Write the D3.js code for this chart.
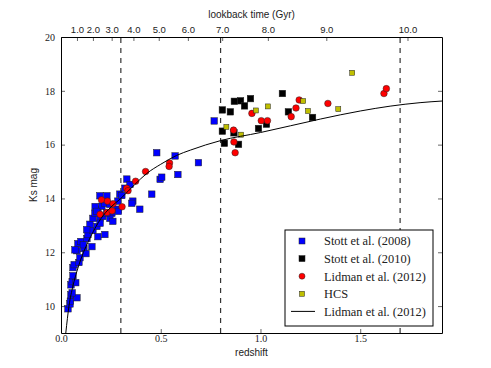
<!DOCTYPE html>
<html>
<head>
<meta charset="utf-8">
<script src="https://cdn.jsdelivr.net/npm/d3@7"></script>
<style>
  body { margin: 0; background: #fff; }
  svg text { fill: #222; }
  .tick-serif { font-family: "Liberation Serif", "DejaVu Serif", serif; font-size: 10px; }
  .tick-sans { font-family: "Liberation Sans", Arial, sans-serif; font-size: 9.5px; }
  .label { font-family: "Liberation Sans", Arial, sans-serif; font-size: 10px; }
  .legend text { font-family: "Liberation Serif", "DejaVu Serif", serif; font-size: 12.4px; }
</style>
</head>
<body>
<div id="chart"></div>
<script>
// [redshift, Ks mag]
const stott2008 = [
  [0.035, 9.90], [0.045, 10.08], [0.047, 10.18], [0.05, 10.42], [0.08, 10.31], [0.056, 10.49],
  [0.05, 10.79], [0.056, 10.91], [0.074, 10.87], [0.06, 11.13], [0.06, 11.43], [0.066, 11.54],
  [0.09, 11.62], [0.095, 11.80], [0.08, 12.06], [0.115, 12.14], [0.125, 11.95], [0.155, 12.21],
  [0.085, 12.32], [0.10, 12.40], [0.13, 12.51], [0.135, 12.66], [0.16, 12.81], [0.145, 13.04],
  [0.18, 12.96], [0.16, 13.26], [0.195, 13.26], [0.17, 13.45], [0.185, 13.60], [0.205, 13.71],
  [0.195, 14.10], [0.23, 14.10], [0.22, 13.82], [0.245, 13.78], [0.255, 13.45], [0.245, 13.26],
  [0.26, 13.15], [0.22, 12.66], [0.185, 12.58], [0.28, 13.60], [0.285, 13.90], [0.295, 14.16],
  [0.32, 14.38], [0.33, 14.72], [0.36, 13.90], [0.355, 13.82], [0.395, 13.60], [0.455, 14.16],
  [0.171, 13.70], [0.179, 13.52], [0.209, 13.33], [0.229, 13.46], [0.288, 13.52], [0.112, 12.28],
  [0.07, 12.09], [0.196, 13.08], [0.129, 12.84], [0.346, 14.52], [0.305, 14.11],
  [0.48, 15.70], [0.572, 15.58], [0.689, 15.33], [0.497, 14.71], [0.505, 14.79], [0.586, 14.89],
  [0.768, 16.88]
];
const stott2010 = [
  [0.809, 17.29], [0.849, 17.22], [0.869, 17.61], [0.900, 17.63], [0.920, 17.44], [0.950, 17.71],
  [1.110, 17.90], [0.809, 16.50], [0.819, 16.05], [0.890, 16.01], [0.867, 16.44], [0.990, 16.60],
  [1.030, 16.76], [1.140, 17.22], [1.261, 17.01]
];
const lidman2012 = [
  [0.196, 13.41], [0.203, 13.95], [0.233, 13.90], [0.261, 13.80], [0.231, 13.48], [0.256, 13.54],
  [0.306, 13.69], [0.329, 14.38], [0.336, 14.29], [0.374, 14.64], [0.424, 15.00], [0.544, 15.32],
  [0.542, 15.19], [0.865, 16.54], [0.867, 16.10], [0.873, 15.70], [0.957, 17.16], [1.004, 16.89],
  [1.035, 16.89], [1.154, 17.04], [1.178, 17.36], [1.194, 17.66], [1.338, 17.53], [1.619, 17.90],
  [1.631, 18.08]
];
const hcs = [
  [0.829, 16.66], [0.903, 16.37], [0.977, 17.27], [1.037, 17.42], [1.214, 17.62], [1.238, 17.25],
  [1.390, 17.32], [1.460, 18.67]
];
// model curve
const lidmanModel = [
  [0.024, 9.0], [0.04, 10.0], [0.06, 10.75], [0.08, 11.3], [0.1, 11.75], [0.15, 12.6],
  [0.2, 13.25], [0.25, 13.68], [0.3, 14.0], [0.37, 14.52], [0.43, 14.93], [0.5, 15.27],
  [0.58, 15.6], [0.65, 15.8], [0.8, 16.15], [1.0, 16.45], [1.15, 16.7], [1.3, 16.95],
  [1.5, 17.25], [1.65, 17.43], [1.8, 17.56], [1.91, 17.62]
];
const epochs = [0.3, 0.8, 1.7];
const lookbackLabels = ["1.0", "2.0", "3.0", "4.0", "5.0", "6.0", "7.0", "8.0", "9.0", "10.0"];
const lookbackRedshift = [0.08, 0.16, 0.254, 0.363, 0.49, 0.636, 0.808, 1.037, 1.33, 1.737];
const xTicks = [0, 0.5, 1.0, 1.5];
const yTicks = [10, 12, 14, 16, 18, 20];

/* ===== Constants ===== */
const width = 491, height = 368;
const margin = {top: 37, right: 49, bottom: 35, left: 61};

const svg = d3.select("#chart").append("svg")
  .attr("width", width).attr("height", height);

const x = d3.scaleLinear().domain([0, 1.91]).range([margin.left, width - margin.right]);
const y = d3.scaleLinear().domain([9, 20]).range([height - margin.bottom, margin.top]);

// dashed epoch markers
svg.append("g").selectAll("line").data(epochs).join("line")
  .attr("x1", d => x(d)).attr("x2", d => x(d))
  .attr("y1", y(9)).attr("y2", y(20))
  .attr("stroke", "#333").attr("stroke-width", 1.2)
  .attr("stroke-dasharray", "5,5");

function squares(data, fill, size) {
  svg.append("g").selectAll("rect").data(data).join("rect")
    .attr("x", d => x(d[0]) - size / 2).attr("y", d => y(d[1]) - size / 2)
    .attr("width", size).attr("height", size)
    .attr("fill", fill).attr("stroke", "#222").attr("stroke-width", 0.5);
}

squares(stott2008, "#0000ff", 6.5);
squares(stott2010, "#000000", 6.5);
svg.append("g").selectAll("circle").data(lidman2012).join("circle")
  .attr("cx", d => x(d[0])).attr("cy", d => y(d[1])).attr("r", 3.3)
  .attr("fill", "#ff0000").attr("stroke", "#222").attr("stroke-width", 0.5);
squares(hcs, "#bfbf00", 5);

// model curve
svg.append("path").datum(lidmanModel)
  .attr("fill", "none").attr("stroke", "#000").attr("stroke-width", 1)
  .attr("d", d3.line().x(d => x(d[0])).y(d => y(d[1])).curve(d3.curveMonotoneX));

// axes, ticks pointing inward
const bottom = svg.append("g").attr("transform", `translate(0,${y(9)})`)
  .call(d3.axisBottom(x).tickValues(xTicks).tickFormat(d3.format(".1f")).tickSizeInner(-4).tickSizeOuter(0).tickPadding(2));
const left = svg.append("g").attr("transform", `translate(${x(0)},0)`)
  .call(d3.axisLeft(y).tickValues(yTicks).tickFormat(d3.format("d")).tickSizeInner(-4).tickSizeOuter(0).tickPadding(6));
const right = svg.append("g").attr("transform", `translate(${x(1.91)},0)`)
  .call(d3.axisRight(y).tickValues(yTicks).tickFormat("").tickSizeInner(-4).tickSizeOuter(0));
const topAxis = svg.append("g").attr("transform", `translate(0,${y(20)})`)
  .call(d3.axisTop(x).tickValues(lookbackRedshift)
    .tickFormat((d, i) => lookbackLabels[i]).tickSizeInner(-4).tickSizeOuter(0).tickPadding(4));

[bottom, left, right, topAxis].forEach(g => {
  g.select(".domain").attr("stroke", "#000").attr("stroke-width", 1);
  g.selectAll(".tick line").attr("stroke", "#000").attr("stroke-width", 0.6);
  g.selectAll("text").attr("font-family", null).attr("font-size", null);
});
bottom.selectAll("text").attr("class", "tick-serif");
left.selectAll("text").attr("class", "tick-serif");
topAxis.selectAll("text").attr("class", "tick-sans");

// axis labels
svg.append("text").attr("class", "label").attr("text-anchor", "middle")
  .attr("x", (x(0) + x(1.91)) / 2).attr("y", 356).text("redshift");
svg.append("text").attr("class", "label").attr("text-anchor", "middle")
  .attr("transform", `translate(37,${(y(9) + y(20)) / 2}) rotate(-90)`).text("Ks mag");
svg.append("text").attr("class", "label").attr("text-anchor", "middle")
  .attr("x", (x(0) + x(1.91)) / 2).attr("y", 18).text("lookback time (Gyr)");

// legend
const legendItems = [
  {label: "Stott et al. (2008)", type: "square", fill: "#0000ff", size: 6},
  {label: "Stott et al. (2010)", type: "square", fill: "#000000", size: 6},
  {label: "Lidman et al. (2012)", type: "circle", fill: "#ff0000", size: 6},
  {label: "HCS", type: "square", fill: "#bfbf00", size: 5},
  {label: "Lidman et al. (2012)", type: "line"}
];
const legend = svg.append("g").attr("class", "legend").attr("transform", "translate(285,230)");
legend.append("rect").attr("width", 148).attr("height", 96)
  .attr("fill", "#fff").attr("stroke", "#000").attr("stroke-width", 1);
const rows = legend.selectAll("g.row").data(legendItems).join("g")
  .attr("class", "row").attr("transform", (d, i) => `translate(0,${11 + i * 17.6})`);
rows.each(function(d) {
  const g = d3.select(this);
  if (d.type === "square") {
    g.append("rect").attr("x", 17 - d.size / 2).attr("y", -d.size / 2)
      .attr("width", d.size).attr("height", d.size)
      .attr("fill", d.fill).attr("stroke", "#222").attr("stroke-width", 0.5);
  } else if (d.type === "circle") {
    g.append("circle").attr("cx", 17).attr("r", d.size / 2)
      .attr("fill", d.fill).attr("stroke", "#222").attr("stroke-width", 0.5);
  } else {
    g.append("line").attr("x1", 6).attr("x2", 30).attr("stroke", "#000").attr("stroke-width", 1);
  }
  g.append("text").attr("x", 39).attr("dy", "0.35em").text(d.label);
});
</script>
</body>
</html>
